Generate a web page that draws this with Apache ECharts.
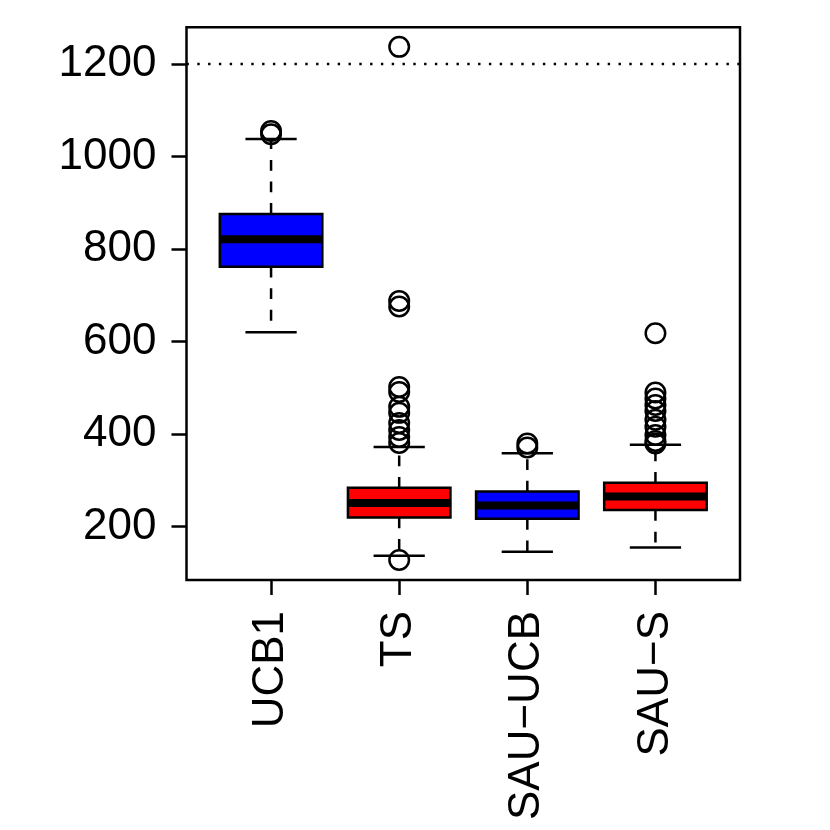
<!DOCTYPE html>
<html>
<head>
<meta charset="utf-8">
<script src="https://cdn.jsdelivr.net/npm/echarts@6/dist/echarts.min.js"></script>
<style>
  html, body { margin: 0; padding: 0; background: #fff; }
  #chart-container { width: 830px; height: 830px; }
</style>
</head>
<body>
<div id="chart-container"></div>
<script>
// values
var categories = ["UCB1", "TS", "SAU\u2212UCB", "SAU\u2212S"];
var whiskerLow = [620, 137, 146, 155];
var quartile1 = [762, 220, 217, 236];
var medians = [821, 251, 246, 265];
var quartile3 = [876, 284, 276, 295];
var whiskerHigh = [1038, 372, 359, 377];
var outliers = [
  [1048, 1055],
  [1237, 688, 676, 502, 491, 459, 446, 424, 409, 394, 381, 128],
  [380, 371],
  [618, 490, 477, 463, 450, 431, 416, 398, 385, 380],
];
var refLine = 1200;
var yTicks = [200, 400, 600, 800, 1000, 1200];
var yMin = 84.8;
var yMax = 1279.3;

var boxColors = ["#0000FF", "#FF0000", "#0000FF", "#FF0000"];
var font = "'Liberation Sans', Arial, Helvetica, sans-serif";

// plot frame like R (xlim 0.5..4.5 plus 4%)
var frame = { left: 186.5, top: 27.3, right: 740, bottom: 580 };
var band = (frame.right - frame.left) / 4.32;
var gridLeft = frame.left + 0.16 * band;
var gridRight = 830 - (frame.right - 0.16 * band);
var lw = 2.5;

var boxData = categories.map(function (c, i) {
  return [i, whiskerLow[i], quartile1[i], medians[i], quartile3[i], whiskerHigh[i]];
});
var outlierData = [];
outliers.forEach(function (list, i) {
  list.forEach(function (v) {
    outlierData.push([i, v]);
  });
});

function renderBox(params, api) {
  var idx = api.value(0);
  var lo = api.coord([idx, api.value(1)]);
  var q1 = api.coord([idx, api.value(2)]);
  var med = api.coord([idx, api.value(3)]);
  var q3 = api.coord([idx, api.value(4)]);
  var hi = api.coord([idx, api.value(5)]);
  var bw = api.size([1, 0])[0];
  var x = q1[0];
  var hw = bw * 0.4;
  var cw = bw * 0.2;
  var dash = { stroke: "#000", lineWidth: lw, lineDash: [10.8, 10.8] };
  var solid = { stroke: "#000", lineWidth: lw };
  return {
    type: "group",
    children: [
      { type: "line", shape: { x1: x, y1: q1[1], x2: x, y2: lo[1] }, style: dash },
      { type: "line", shape: { x1: x, y1: q3[1], x2: x, y2: hi[1] }, style: dash },
      { type: "line", shape: { x1: x - cw, y1: lo[1], x2: x + cw, y2: lo[1] }, style: solid },
      { type: "line", shape: { x1: x - cw, y1: hi[1], x2: x + cw, y2: hi[1] }, style: solid },
      {
        type: "rect",
        shape: { x: x - hw, y: q3[1], width: hw * 2, height: q1[1] - q3[1] },
        style: { fill: boxColors[params.dataIndex], stroke: "#000", lineWidth: lw },
      },
      {
        type: "line",
        shape: { x1: x - hw, y1: med[1], x2: x + hw, y2: med[1] },
        style: { stroke: "#000", lineWidth: 8 },
      },
    ],
  };
}

function renderRef(params, api) {
  var y = api.coord([0, api.value(1)])[1];
  return {
    type: "line",
    shape: { x1: frame.left, y1: y, x2: frame.right, y2: y },
    style: { stroke: "#000", lineWidth: 2.4, lineDash: [2.4, 8.4] },
  };
}

var dom = document.getElementById("chart-container");
var myChart = echarts.init(dom, null, { renderer: "canvas" });

var option = {
  animation: false,
  backgroundColor: "#fff",
  grid: {
    left: gridLeft,
    right: gridRight,
    top: frame.top,
    bottom: 830 - frame.bottom,
    containLabel: false,
  },
  xAxis: {
    type: "category",
    data: categories,
    boundaryGap: true,
    axisLine: { show: false },
    axisTick: {
      show: true,
      alignWithLabel: true,
      length: 15,
      lineStyle: { color: "#000", width: lw },
    },
    axisLabel: {
      rotate: 90,
      margin: 31,
      color: "#000",
      fontSize: 44,
      fontFamily: font,
      interval: 0,
    },
    splitLine: { show: false },
  },
  yAxis: {
    type: "value",
    min: yMin,
    max: yMax,
    offset: gridLeft - frame.left,
    axisLine: { show: false },
    axisTick: {
      show: true,
      length: 15,
      customValues: yTicks,
      lineStyle: { color: "#000", width: lw },
    },
    axisLabel: {
      margin: 30,
      color: "#000",
      fontSize: 44,
      fontFamily: font,
      customValues: yTicks,
      formatter: function (v) {
        return String(v);
      },
    },
    splitLine: { show: false },
  },
  graphic: [
    {
      type: "rect",
      shape: {
        x: frame.left,
        y: frame.top,
        width: frame.right - frame.left,
        height: frame.bottom - frame.top,
      },
      style: { fill: "none", stroke: "#000", lineWidth: lw },
      z: 100,
    },
  ],
  series: [
    {
      type: "custom",
      renderItem: renderRef,
      data: [[0, refLine]],
      silent: true,
      z: 1,
    },
    {
      type: "custom",
      renderItem: renderBox,
      data: boxData,
      z: 2,
    },
    {
      type: "scatter",
      data: outlierData,
      symbol: "circle",
      symbolSize: 19.5,
      itemStyle: {
        color: "rgba(0,0,0,0)",
        borderColor: "#000",
        borderWidth: 2.5,
        opacity: 1,
      },
      z: 3,
    },
  ],
};

myChart.setOption(option);
window.addEventListener("resize", myChart.resize);
</script>
</body>
</html>
